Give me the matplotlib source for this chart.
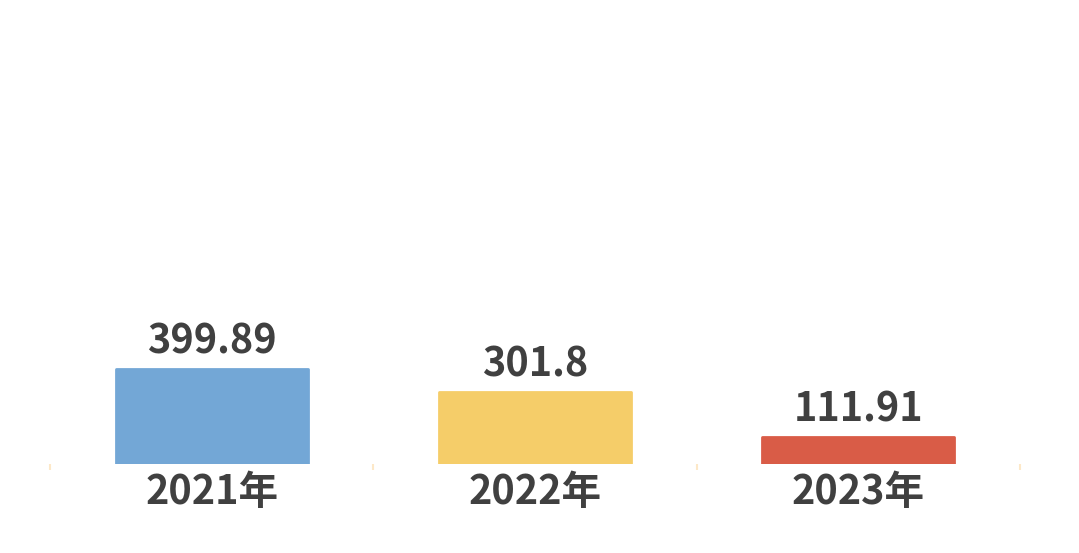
# Bar chart of yearly values with labels above and years below

import matplotlib.pyplot as plt

plt.rcParams['font.family'] = ['Noto Sans CJK SC', 'DejaVu Sans']

# Data
categories = ['2021年', '2022年', '2023年']
values = [399.89, 301.8, 111.91]
value_labels = ['399.89', '301.8', '111.91']
colors = ['#73a7d6', '#f5cd69', '#d95c47']

fig = plt.figure(figsize=(10.79, 5.53), dpi=100)
ax = fig.add_axes([50 / 1079, (553 - 464) / 553, 970 / 1079, 444 / 553])

x = range(len(categories))
bars = ax.bar(x, values, width=0.594, color=colors, edgecolor=colors,
              linewidth=2, joinstyle='round')

# value labels above the bars
for xi, v, lab in zip(x, values, value_labels):
    ax.annotate(lab, (xi, v), xytext=(0, 5), textcoords='offset points',
                ha='center', va='bottom', fontsize=28.5, fontweight='bold',
                color='#404040')

ax.set_xlim(-0.5, len(categories) - 0.5)
ax.set_ylim(0, 1869)

# category boundary ticks
ax.set_xticks([-0.5, 0.5, 1.5, 2.5])
ax.set_xticklabels([])
ax.tick_params(axis='x', length=4, width=1.5, color='#fde8c8', direction='out')
ax.set_yticks([])

for xi, cat in zip(x, categories):
    ax.annotate(cat, (xi, 0), xytext=(0, -6), textcoords='offset points',
                ha='center', va='top', fontsize=28.5, fontweight='bold',
                color='#404040', annotation_clip=False)

for s in ax.spines.values():
    s.set_visible(False)

fig.savefig('out.png', dpi=100, facecolor='white')
